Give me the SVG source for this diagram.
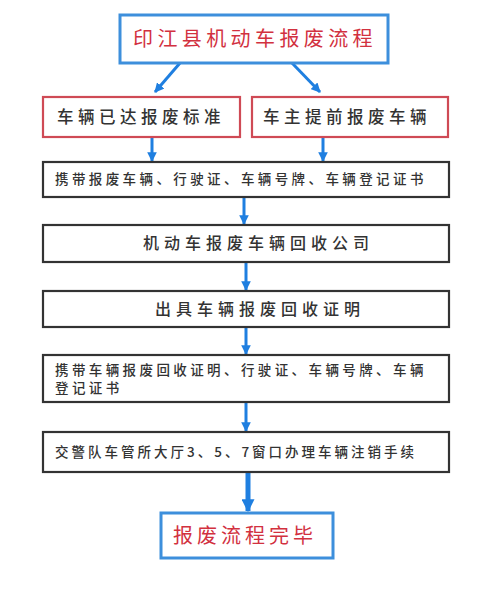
<svg xmlns="http://www.w3.org/2000/svg" width="500" height="597" viewBox="0 0 500 597">
<defs>
<marker id="ah" viewBox="0 0 10 10" refX="9" refY="5" markerWidth="3.2" markerHeight="3.2" orient="auto" markerUnits="strokeWidth">
<path d="M0,0 L10,5 L0,10 z" fill="#1f7fe0"/>
</marker>
<marker id="ahb" viewBox="0 0 10 10" refX="9" refY="5" markerWidth="3" markerHeight="2.6" orient="auto" markerUnits="strokeWidth">
<path d="M0,0 L10,5 L0,10 z" fill="#1f7fe0"/>
</marker>
</defs>
<style>
text{font-family:"Noto Sans CJK SC","Noto Sans",sans-serif;}
.blue{fill:#fff;stroke:#3d8fdc;stroke-width:3;}
.red{fill:#fff;stroke:#cf4a55;stroke-width:2.2;}
.blk{fill:#fff;stroke:#333;stroke-width:2.2;}
.tr{fill:#d2313f;font-size:20px;letter-spacing:4.4px;}
.tb{fill:#333;font-size:16px;letter-spacing:3.5px;font-weight:500;}
.ts{fill:#333;font-size:13.5px;letter-spacing:3.4px;font-weight:500;}
.c{fill:none;stroke:#1f7fe0;stroke-width:3;marker-end:url(#ah);}
</style>
<rect width="500" height="597" fill="#fff"/>
<g id="connectors">
<line class="c" x1="180" y1="63" x2="155" y2="92"/>
<line class="c" x1="292" y1="63" x2="320" y2="92"/>
<line class="c" x1="152" y1="137" x2="152" y2="161"/>
<line class="c" x1="323" y1="137" x2="323" y2="161"/>
<line class="c" x1="244" y1="197" x2="244" y2="224"/>
<line class="c" x1="246" y1="262" x2="246" y2="290"/>
<line class="c" x1="246" y1="327" x2="246" y2="354"/>
<line class="c" x1="246" y1="402" x2="246" y2="431"/>
<line class="c" x1="248" y1="472" x2="248" y2="511" style="stroke-width:5;marker-end:url(#ahb)"/>
</g>
<g id="title">
<rect class="blue" x="120" y="15" width="268" height="48"/>
<text class="tr" x="133" y="46">印江县机动车报废流程</text>
</g>
<g id="cond1">
<rect class="red" x="43" y="97" width="197" height="40"/>
<text class="tb" x="57" y="123" style="letter-spacing:4.5px;font-size:16.5px">车辆已达报废标准</text>
</g>
<g id="cond2">
<rect class="red" x="252" y="97" width="196" height="40"/>
<text class="tb" x="263" y="123" style="letter-spacing:4.5px;font-size:16.5px">车主提前报废车辆</text>
</g>
<g id="step1">
<rect class="blk" x="43" y="162" width="406" height="35"/>
<text class="ts" x="55" y="184">携带报废车辆、行驶证、车辆号牌、车辆登记证书</text>
</g>
<g id="step2">
<rect class="blk" x="43" y="225" width="406" height="37"/>
<text class="tb" x="143" y="249" style="letter-spacing:5px">机动车报废车辆回收公司</text>
</g>
<g id="step3">
<rect class="blk" x="43" y="291" width="406" height="36"/>
<text class="tb" x="155" y="315" style="letter-spacing:5px">出具车辆报废回收证明</text>
</g>
<g id="step4">
<rect class="blk" x="43" y="355" width="406" height="47"/>
<text class="ts" x="55" y="375">携带车辆报废回收证明、行驶证、车辆号牌、车辆</text>
<text class="ts" x="55" y="393">登记证书</text>
</g>
<g id="step5">
<rect class="blk" x="43" y="432" width="406" height="40"/>
<text class="ts" x="55" y="457" style="letter-spacing:3px">交警队车管所大厅3、5、7窗口办理车辆注销手续</text>
</g>
<g id="end">
<rect class="blue" x="161" y="513" width="172" height="45"/>
<text class="tr" x="173" y="543" style="letter-spacing:4px">报废流程完毕</text>
</g>
</svg>
